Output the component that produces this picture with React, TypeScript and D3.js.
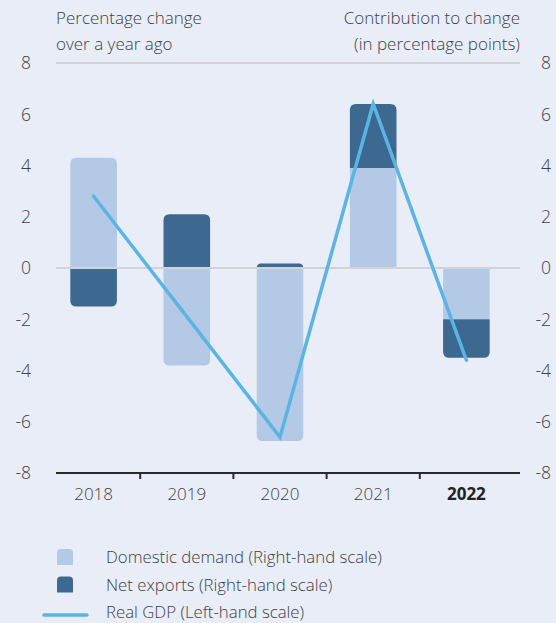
import React from "react";
import * as d3 from "d3";

const years = ["2018", "2019", "2020", "2021", "2022"];
const domesticDemand = [4.3, -3.8, -6.75, 3.9, -2.0];
const netExports = [-1.5, 2.1, 0.18, 2.5, -1.5];
const realGdp = [2.8, -1.9, -6.6, 6.4, -3.6];
const yTicks = [8, 6, 4, 2, 0, -2, -4, -6, -8];

const W = 556;
const H = 623;
const BG = "#e8edf7";
const LIGHT = "#b3c9e5";
const DARK = "#3d6990";
const LINE = "#5cb4e5";
const TEXT = "#414141";
const FONT = "'Open Sans', 'Noto Sans', sans-serif";

// rect with the outer end rounded
function barPath(x: number, top: number, bottom: number, w: number, r: number, round: "top" | "bottom" | null) {
  const h = bottom - top;
  const rr = Math.min(r, h, w / 2);
  if (!round || rr <= 0) return `M${x},${top}h${w}v${h}h${-w}Z`;
  if (round === "top") {
    return `M${x},${bottom}V${top + rr}Q${x},${top} ${x + rr},${top}H${x + w - rr}Q${x + w},${top} ${x + w},${top + rr}V${bottom}Z`;
  }
  return `M${x},${top}V${bottom - rr}Q${x},${bottom} ${x + rr},${bottom}H${x + w - rr}Q${x + w},${bottom} ${x + w},${bottom - rr}V${top}Z`;
}

export default function App() {
  const x = d3.scaleBand().domain(years).range([47, 513]).paddingInner(0.5).paddingOuter(0.25);
  const y = d3.scaleLinear().domain([-8, 8]).range([473, 63]);
  const bw = x.bandwidth();
  const step = x.step();

  const rows = years.map((yr, i) => ({ year: yr, domestic: domesticDemand[i], net: netExports[i] }));
  const keys = ["domestic", "net"];
  const series = d3.stack<any>().keys(keys).offset(d3.stackOffsetDiverging)(rows);
  const colors: Record<string, string> = { domestic: LIGHT, net: DARK };

  const line = d3
    .line<number>()
    .x((_, i) => (x(years[i]) as number) + bw / 2)
    .y((d) => y(d));

  const segs: React.ReactNode[] = [];
  years.forEach((yr, i) => {
    const parts = series.map((s) => ({ key: s.key, v0: s[i][0], v1: s[i][1] }));
    const maxTop = d3.max(parts, (p) => Math.max(p.v0, p.v1)) as number;
    const minBot = d3.min(parts, (p) => Math.min(p.v0, p.v1)) as number;
    parts.forEach((p) => {
      if (p.v0 === p.v1) return;
      const hi = Math.max(p.v0, p.v1);
      const lo = Math.min(p.v0, p.v1);
      let round: "top" | "bottom" | null = null;
      if (hi > 0 && hi === maxTop) round = "top";
      if (lo < 0 && lo === minBot) round = "bottom";
      segs.push(
        <path
          key={yr + p.key}
          d={barPath(x(yr) as number, y(hi), y(lo), bw, 6, round)}
          fill={colors[p.key]}
        />
      );
    });
  });

  const legend = [
    { label: "Domestic demand (Right-hand scale)", type: "box", color: LIGHT },
    { label: "Net exports (Right-hand scale)", type: "box", color: DARK },
    { label: "Real GDP (Left-hand scale)", type: "line", color: LINE },
  ];

  return (
    <div style={{ position: "absolute", left: 0, top: 0, width: W, height: H, background: BG }}>
      <svg width={W} height={H} style={{ display: "block", fontFamily: FONT, fontWeight: 300 }}>
        <rect width={W} height={H} fill={BG} />

        <text x={56} y={24} fontSize={17} fill={TEXT}>Percentage change</text>
        <text x={56} y={50} fontSize={17} fill={TEXT}>over a year ago</text>
        <text x={520} y={24} fontSize={17} fill={TEXT} textAnchor="end">Contribution to change</text>
        <text x={520} y={50} fontSize={17} fill={TEXT} textAnchor="end">(in percentage points)</text>

        <line x1={56} x2={520} y1={y(8)} y2={y(8)} stroke="#d2d3d6" strokeWidth={2} />

        {segs}

        <line x1={56} x2={520} y1={y(0)} y2={y(0)} stroke="#d2d3d6" strokeWidth={2} />

        {yTicks.map((t) => (
          <g key={t}>
            <text x={31} y={y(t)} dy="0.36em" fontSize={17.5} fill={TEXT} textAnchor="end">{t}</text>
            <text x={551} y={y(t)} dy="0.36em" fontSize={17.5} fill={TEXT} textAnchor="end">{t}</text>
          </g>
        ))}

        <line x1={56} x2={520} y1={y(-8)} y2={y(-8)} stroke="#2a2a2a" strokeWidth={2} />
        {years.slice(0, -1).map((yr) => {
          const tx = (x(yr) as number) + bw / 2 + step / 2;
          return <line key={yr} x1={tx} x2={tx} y1={y(-8)} y2={y(-8) + 6} stroke="#2a2a2a" strokeWidth={2} />;
        })}
        {years.map((yr, i) => (
          <text
            key={yr}
            x={(x(yr) as number) + bw / 2}
            y={500}
            fontSize={17}
            fill={i === years.length - 1 ? "#222" : TEXT}
            fontWeight={i === years.length - 1 ? 700 : 300}
            textAnchor="middle"
          >
            {yr}
          </text>
        ))}

        <path d={line(realGdp) || ""} fill="none" stroke={LINE} strokeWidth={3.5} strokeLinecap="round" strokeLinejoin="miter" />

        {legend.map((l, i) => {
          const cy = 557 + i * 27.5;
          return (
            <g key={l.label}>
              {l.type === "box" ? (
                <path d={barPath(57, cy - 8, cy + 8, 16, 4, "top")} fill={l.color} />
              ) : (
                <line x1={44} x2={87} y1={cy + 3} y2={cy + 3} stroke={l.color} strokeWidth={3.5} strokeLinecap="round" />
              )}
              <text x={106} y={cy} dy="0.36em" fontSize={16.8} fill={TEXT}>{l.label}</text>
            </g>
          );
        })}
      </svg>
    </div>
  );
}
